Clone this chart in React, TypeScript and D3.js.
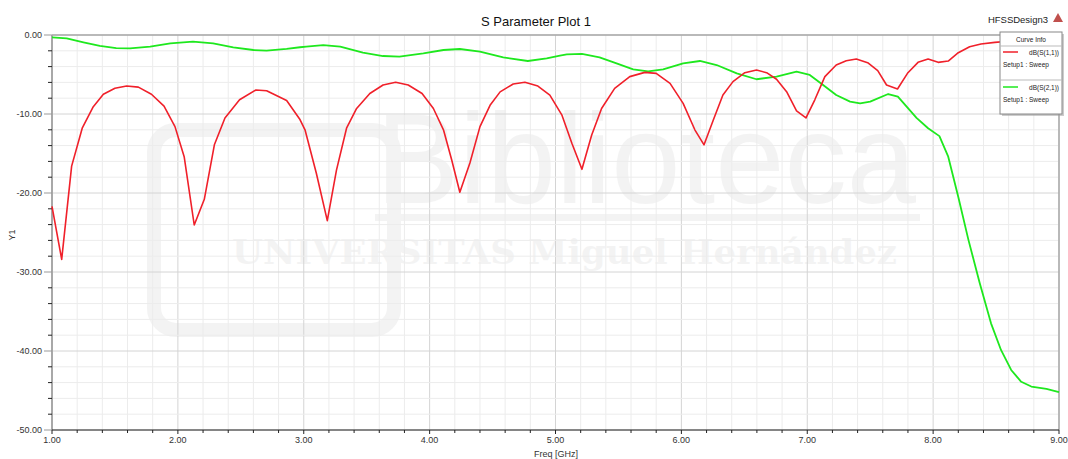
import React from "react";
import * as d3 from "d3";

const freqS11 = [1.0, 1.077, 1.156, 1.24, 1.328, 1.408, 1.5, 1.593, 1.686, 1.79, 1.89, 1.977, 2.05, 2.13, 2.21, 2.29, 2.374, 2.49, 2.62, 2.705, 2.864, 2.97, 3.01, 3.1, 3.187, 3.26, 3.34, 3.42, 3.525, 3.63, 3.73, 3.83, 3.94, 4.03, 4.11, 4.175, 4.24, 4.32, 4.4, 4.48, 4.56, 4.664, 4.757, 4.86, 4.955, 5.05, 5.13, 5.21, 5.287, 5.366, 5.47, 5.59, 5.71, 5.8, 5.91, 6.014, 6.107, 6.18, 6.253, 6.33, 6.41, 6.504, 6.597, 6.677, 6.756, 6.836, 6.915, 6.99, 7.06, 7.14, 7.23, 7.31, 7.39, 7.48, 7.56, 7.63, 7.717, 7.8, 7.88, 7.96, 8.04, 8.12, 8.2, 8.29, 8.38, 8.49, 8.6, 8.75, 8.9, 9.0];
const s11 = [-21.7, -28.4, -16.6, -11.8, -9.07, -7.5, -6.75, -6.46, -6.6, -7.5, -9.0, -11.6, -15.4, -24.05, -20.8, -13.9, -10.5, -8.2, -6.96, -7.05, -8.3, -10.7, -12.0, -17.5, -23.5, -17.1, -11.8, -9.3, -7.4, -6.33, -5.99, -6.33, -7.4, -9.3, -12.0, -15.8, -19.9, -16.2, -11.6, -8.9, -7.2, -6.2, -5.99, -6.46, -7.6, -10.1, -13.7, -17.0, -12.7, -9.3, -6.75, -5.27, -4.73, -4.86, -6.12, -8.65, -12.0, -13.9, -10.8, -7.6, -5.9, -4.77, -4.43, -4.77, -5.6, -7.17, -9.6, -10.5, -8.2, -5.27, -3.8, -3.25, -3.04, -3.5, -4.5, -6.33, -6.84, -4.77, -3.46, -3.04, -3.46, -3.3, -2.24, -1.48, -1.14, -0.93, -0.8, -0.65, -0.55, -0.5];

const freqS21 = [1.0, 1.117, 1.25, 1.38, 1.51, 1.62, 1.78, 1.94, 2.12, 2.28, 2.44, 2.6, 2.705, 2.864, 2.97, 3.02, 3.155, 3.29, 3.47, 3.63, 3.76, 3.95, 4.11, 4.24, 4.4, 4.585, 4.78, 4.93, 5.035, 5.09, 5.21, 5.35, 5.485, 5.617, 5.736, 5.855, 6.014, 6.147, 6.28, 6.44, 6.597, 6.756, 6.915, 7.02, 7.126, 7.23, 7.34, 7.42, 7.5, 7.643, 7.72, 7.868, 7.96, 8.05, 8.12, 8.2, 8.28, 8.37, 8.46, 8.54, 8.62, 8.7, 8.78, 8.9, 9.0];
const s21 = [-0.29, -0.42, -0.93, -1.39, -1.65, -1.69, -1.48, -1.05, -0.84, -1.05, -1.56, -1.9, -1.99, -1.75, -1.55, -1.48, -1.27, -1.48, -2.24, -2.66, -2.74, -2.32, -1.9, -1.77, -2.11, -2.83, -3.29, -2.95, -2.6, -2.45, -2.4, -2.83, -3.59, -4.35, -4.6, -4.35, -3.59, -3.29, -3.8, -4.86, -5.6, -5.27, -4.64, -5.06, -6.33, -7.6, -8.44, -8.65, -8.44, -7.47, -7.8, -10.5, -11.8, -12.8, -15.4, -20.5, -25.9, -31.4, -36.5, -39.9, -42.4, -43.9, -44.5, -44.8, -45.2];

const xTickLabels = ["1.00", "2.00", "3.00", "4.00", "5.00", "6.00", "7.00", "8.00", "9.00"];
const yTickLabels = ["0.00", "-10.00", "-20.00", "-30.00", "-40.00", "-50.00"];
const seriesNames = ["dB(S(1,1))", "dB(S(2,1))"];
const seriesColors = ["#f0202a", "#1ee81e"];

export default function App() {
  const W = 1068, H = 459;
  const x = d3.scaleLinear().domain([1, 9]).range([52, 1059]);
  const y = d3.scaleLinear().domain([-50, 0]).range([430, 35]);
  const minorX = d3.range(1, 9.0001, 0.2);
  const minorY = d3.range(-50, 0.0001, 2);
  const line = d3.line<[number, number]>().x(d => x(d[0])).y(d => y(d[1]));
  const d11 = line(freqS11.map((f, i) => [f, s11[i]] as [number, number])) || "";
  const d21 = line(freqS21.map((f, i) => [f, s21[i]] as [number, number])) || "";
  const font = "Arial, 'Liberation Sans', sans-serif";

  return (
    <svg width={W} height={H} style={{ position: "absolute", left: 0, top: 0, background: "#fff" }} fontFamily={font}>
      <rect x={0} y={0} width={W} height={H} fill="#fff" />
      {/* watermark */}
      <g opacity={0.045} fill="#000">
        <rect x={154} y={130} width={240} height={200} rx={22} fill="none" stroke="#000" strokeWidth={14} />
        <text x={376} y={203} fontSize={128} textLength={540} lengthAdjust="spacingAndGlyphs" fontFamily="'Liberation Sans', Arial, sans-serif">Biblioteca</text>
        <rect x={375} y={214} width={545} height={7} />
        <text x={232} y={264} fontSize={34} textLength={665} lengthAdjust="spacingAndGlyphs" fontWeight="bold" fontFamily="'DejaVu Serif', serif">UNIVERSITAS Miguel Hernández</text>
      </g>
      {/* grid */}
      {minorX.map((v, i) => (
        <line key={"gx" + i} x1={x(v)} x2={x(v)} y1={35} y2={430} stroke={Math.abs(v - Math.round(v)) < 1e-6 ? "#d4d4d4" : "#ececec"} strokeWidth={1} />
      ))}
      {minorY.map((v, i) => (
        <line key={"gy" + i} x1={52} x2={1059} y1={y(v)} y2={y(v)} stroke={Math.abs(v % 10) < 1e-6 ? "#d4d4d4" : "#ececec"} strokeWidth={1} />
      ))}
      {/* frame */}
      <line x1={52} x2={1059} y1={35} y2={35} stroke="#a8a8a8" strokeWidth={1.5} />
      <line x1={1059} x2={1059} y1={35} y2={430} stroke="#a8a8a8" strokeWidth={1.5} />
      <line x1={52} x2={52} y1={35} y2={430} stroke="#a8a8a8" strokeWidth={2} />
      <line x1={52} x2={1059} y1={430} y2={430} stroke="#222" strokeWidth={1.2} />
      {/* y ticks */}
      {minorY.map((v, i) => {
        const major = Math.abs(v % 10) < 1e-6;
        return <line key={"ty" + i} x1={major ? 44 : 48} x2={52} y1={y(v)} y2={y(v)} stroke={major ? "#999" : "#222"} strokeWidth={1} />;
      })}
      {yTickLabels.map((t, i) => (
        <text key={"yl" + i} x={42} y={y(-10 * i) + 3} fontSize={9} textAnchor="end" fill="#333">{t}</text>
      ))}
      {/* x ticks */}
      {minorX.map((v, i) => {
        const major = Math.abs(v - Math.round(v)) < 1e-6;
        return <line key={"tx" + i} x1={x(v)} x2={x(v)} y1={430} y2={major ? 434 : 433} stroke="#222" strokeWidth={1} />;
      })}
      {xTickLabels.map((t, i) => (
        <text key={"xl" + i} x={x(i + 1)} y={443} fontSize={9} textAnchor="middle" fill="#333">{t}</text>
      ))}
      <text x={556} y={457} fontSize={9} textAnchor="middle" fill="#333">Freq [GHz]</text>
      <text transform="translate(15,235) rotate(-90)" fontSize={9} textAnchor="middle" fill="#333">Y1</text>
      {/* curves */}
      <path d={d21} fill="none" stroke={seriesColors[1]} strokeWidth={1.8} strokeLinejoin="round" />
      <path d={d11} fill="none" stroke={seriesColors[0]} strokeWidth={1.6} strokeLinejoin="round" />
      {/* title */}
      <text x={536} y={26} fontSize={13} textAnchor="middle" fill="#111">S Parameter Plot 1</text>
      <text x={1018} y={23} fontSize={9.5} textAnchor="middle" fill="#222">HFSSDesign3</text>
      <path d="M1058,13 L1063,22 L1053,22 Z" fill="#c0504d" />
      {/* legend */}
      <rect x={1002} y={34} width={62} height={82} fill="#999" opacity={0.5} />
      <rect x={1000} y={32} width={62} height={82} fill="#fff" stroke="#888" strokeWidth={1} />
      <text x={1031} y={42} fontSize={6.5} textAnchor="middle" fill="#222">Curve Info</text>
      <line x1={1000} x2={1062} y1={46} y2={46} stroke="#bbb" strokeWidth={1} />
      <line x1={1003} x2={1018} y1={52} y2={52} stroke={seriesColors[0]} strokeWidth={1.5} />
      <text x={1059} y={54.5} fontSize={6.5} textAnchor="end" fill="#222">{seriesNames[0]}</text>
      <text x={1003} y={66.5} fontSize={6.5} fill="#222">Setup1 : Sweep</text>
      <line x1={1000} x2={1062} y1={80} y2={80} stroke="#bbb" strokeWidth={1} />
      <line x1={1003} x2={1018} y1={87} y2={87} stroke={seriesColors[1]} strokeWidth={1.5} />
      <text x={1059} y={89.5} fontSize={6.5} textAnchor="end" fill="#222">{seriesNames[1]}</text>
      <text x={1003} y={101.5} fontSize={6.5} fill="#222">Setup1 : Sweep</text>
    </svg>
  );
}
